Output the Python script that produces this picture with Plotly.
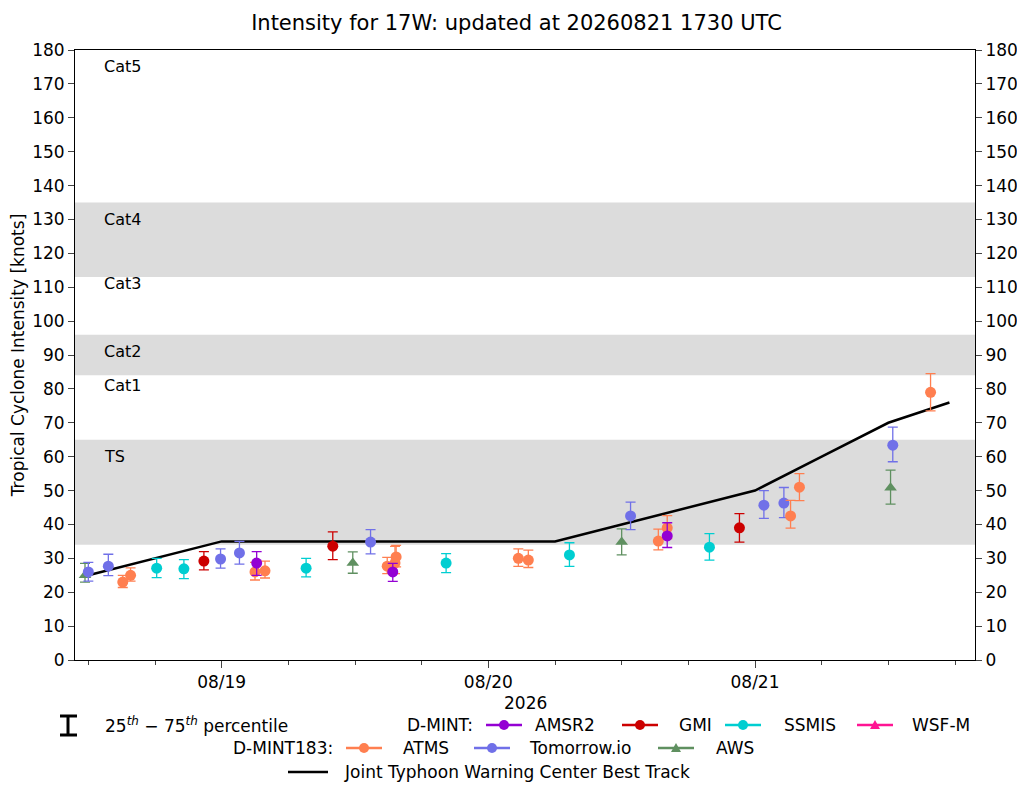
import plotly.graph_objects as go
from datetime import datetime, timedelta

BASE = datetime(2026, 8, 19)
def T(hs): return [BASE + timedelta(hours=h) for h in hs]

# Best track (hours from 08/19 00Z, knots)
bt_h = [-12, -6, 0, 6, 12, 18, 24, 30, 36, 42, 48, 54, 60, 65.5]
bt_v = [25, 30, 35, 35, 35, 35, 35, 35, 40, 45, 50, 60, 70, 76]

amsr2_h = [3.15, 15.4, 40.1]; amsr2_v = [28.6, 26, 36.6]
amsr2_lo = [25, 23.2, 33.2]; amsr2_hi = [32, 28.5, 40.5]
gmi_h = [-1.6, 10.0, 46.6]; gmi_v = [29.2, 33.6, 39]
gmi_lo = [26.6, 29.6, 34.8]; gmi_hi = [32, 37.8, 43.2]
ssmis_h = [-5.85, -3.4, 7.6, 20.2, 31.3, 43.9]; ssmis_v = [27.1, 26.9, 27.1, 28.6, 31, 33.3]
ssmis_lo = [24.3, 24, 24.5, 25.8, 27.6, 29.5]; ssmis_hi = [30, 29.6, 30, 31.4, 34.6, 37.3]
atms_h = [-8.9, -8.2, 3.0, 3.9, 14.9, 15.6, 15.7, 26.7, 27.6, 39.3, 40.1, 51.2, 52.0, 63.8]
atms_v = [23, 25, 26, 26.3, 27.7, 28.6, 30.4, 30, 29.5, 35.1, 39, 42.5, 51, 79]
atms_lo = [21.4, 23.3, 23.6, 24.2, 25.5, 25.5, 27.5, 27.6, 27.3, 32.5, 35.8, 38.9, 47, 73.5]
atms_hi = [25, 27.2, 28.8, 29.2, 30.3, 33.5, 33.8, 32.8, 32.4, 38.6, 42.6, 47.1, 55, 84.5]
tio_h = [-12, -10.2, -0.1, 1.6, 13.4, 36.8, 48.8, 50.6, 60.4]
tio_v = [26, 27.7, 29.8, 31.6, 34.8, 42.5, 45.7, 46.3, 63.4]
tio_lo = [23.3, 24.9, 27.1, 28.3, 31.3, 38.5, 41.8, 42, 58.5]
tio_hi = [28.8, 31.2, 32.8, 35, 38.5, 46.6, 50, 50.9, 68.7]
aws_h = [-12.3, 11.8, 36.0, 60.2]; aws_v = [25, 28.6, 34.8, 50.8]
aws_lo = [23, 25.6, 31, 46]; aws_hi = [28.5, 31.9, 38.7, 56]

bands = [(34, 65), (84, 96), (113, 135)]
cat_labels = ["TS", "Cat1", "Cat2", "Cat3", "Cat4", "Cat5"]
cat_y = [60, 81, 91, 111, 130, 175]

C = dict(AMSR2="#9400D3", GMI="#CC0000", SSMIS="#00CED1", WSF="#FF1493",
         ATMS="#FF7F50", TIO="#7070E8", AWS="#5F9060")

fig = go.Figure()
for lo, hi in bands:
    fig.add_hrect(y0=lo, y1=hi, fillcolor="#DCDCDC", line_width=0, layer="below")

fig.add_trace(go.Scatter(x=T(bt_h), y=bt_v, mode="lines", line=dict(color="black", width=2.5)))

def pts(h, v, lo, hi, col, sym="circle"):
    fig.add_trace(go.Scatter(
        x=T(h), y=v, mode="markers",
        marker=dict(color=col, size=11, symbol=sym + ("-up" if sym == "triangle" else "")),
        error_y=dict(type="data", symmetric=False,
                     array=[a - b for a, b in zip(hi, v)],
                     arrayminus=[b - a for a, b in zip(lo, v)],
                     color=col, thickness=1.3, width=5)))

pts(aws_h, aws_v, aws_lo, aws_hi, C["AWS"], "triangle")
pts(ssmis_h, ssmis_v, ssmis_lo, ssmis_hi, C["SSMIS"])
pts(gmi_h, gmi_v, gmi_lo, gmi_hi, C["GMI"])
pts(tio_h, tio_v, tio_lo, tio_hi, C["TIO"])
pts(atms_h, atms_v, atms_lo, atms_hi, C["ATMS"])
pts(amsr2_h, amsr2_v, amsr2_lo, amsr2_hi, C["AMSR2"])

fig.add_trace(go.Scatter(x=[BASE], y=[0], yaxis="y2", mode="markers", marker=dict(opacity=0)))

x0 = BASE + timedelta(hours=-13.2)
x1 = BASE + timedelta(hours=67.8)
for lab, yy in zip(cat_labels, cat_y):
    fig.add_annotation(x=BASE + timedelta(hours=-10.8), y=yy, text=lab, showarrow=False,
                       xanchor="left", font=dict(size=16))

F = "DejaVu Sans"
def px(x): return (x - 75) / 900
def py(y): return (660 - y) / 610
def txt(x, y, s, anchor="left", size=17):
    fig.add_annotation(xref="paper", yref="paper", x=px(x), y=py(y), text=s, showarrow=False,
                       xanchor=anchor, yanchor="middle", font=dict(size=size, family=F))
def leg(x, y, col, sym="circle"):
    fig.add_shape(type="line", xref="paper", yref="paper", x0=px(x), x1=px(x + 36), y0=py(y), y1=py(y),
                  line=dict(color=col, width=2.5))
    cx = x + 18
    if sym == "circle":
        fig.add_shape(type="circle", xref="paper", yref="paper", x0=px(cx - 5), x1=px(cx + 5),
                      y0=py(y + 5), y1=py(y - 5), fillcolor=col, line=dict(color=col, width=0))
    elif sym == "tri":
        fig.add_shape(type="path", xref="paper", yref="paper",
                      path=f"M {px(cx-5)} {py(y+4)} L {px(cx+5)} {py(y+4)} L {px(cx)} {py(y-5)} Z",
                      fillcolor=col, line=dict(color=col, width=0))

txt(525, 703, "2026", "center")
# percentile symbol
fig.add_shape(type="line", xref="paper", yref="paper", x0=px(68), x1=px(68), y0=py(716), y1=py(735), line=dict(color="black", width=3))
fig.add_shape(type="line", xref="paper", yref="paper", x0=px(60), x1=px(77), y0=py(716), y1=py(716), line=dict(color="black", width=3))
fig.add_shape(type="line", xref="paper", yref="paper", x0=px(60), x1=px(77), y0=py(735), y1=py(735), line=dict(color="black", width=3))
txt(103, 725, "25<sup><i>th</i></sup> − 75<sup><i>th</i></sup> percentile")
txt(475, 725, "D-MINT:", "right")
leg(486, 725, C["AMSR2"]); txt(533, 725, "AMSR2")
leg(622, 725, C["GMI"]); txt(677, 725, "GMI")
leg(725, 725, C["SSMIS"]); txt(782, 725, "SSMIS")
leg(857, 725, C["WSF"], "tri"); txt(910, 725, "WSF-M")
txt(335, 748, "D-MINT183:", "right")
leg(346, 748, C["ATMS"]); txt(401, 748, "ATMS")
leg(474, 748, C["TIO"]); txt(527, 748, "Tomorrow.io")
leg(658, 748, C["AWS"], "tri"); txt(714, 748, "AWS")
fig.add_shape(type="line", xref="paper", yref="paper", x0=px(288), x1=px(328), y0=py(772), y1=py(772), line=dict(color="black", width=2.5))
txt(342, 772, "Joint Typhoon Warning Center Best Track")

yax = dict(range=[0, 180], dtick=10, showgrid=False, ticks="outside", ticklen=6, automargin=False,
           tickfont=dict(size=17, family=F), linecolor="black", showline=True, zeroline=False)
fig.update_layout(
    width=1017, height=777, plot_bgcolor="white", paper_bgcolor="white", showlegend=False,
    margin=dict(l=67, r=50, t=42, b=125),
    font=dict(family=F, color="black"),
    title=dict(text="Intensity for 17W: updated at 20260821 1730 UTC", x=0.5, xanchor="center",
               y=1 - 15 / 777, yanchor="middle", font=dict(size=21, family=F)),
    xaxis=dict(type="date", range=[x0, x1], dtick=86400000, tick0=BASE, tickformat="%m/%d",
               ticks="outside", ticklen=7, showgrid=False, showline=True, linecolor="black", mirror=True,
               tickfont=dict(size=17, family=F), automargin=False,
               minor=dict(dtick=6 * 3600000, tick0=BASE, ticks="outside", ticklen=4, showgrid=False)),
    yaxis=dict(**yax, title=dict(text="Tropical Cyclone Intensity [knots]", standoff=8,
                                 font=dict(size=17, family=F))),
    yaxis2=dict(**yax, overlaying="y", side="right"),
)
fig.write_html("out.html")
